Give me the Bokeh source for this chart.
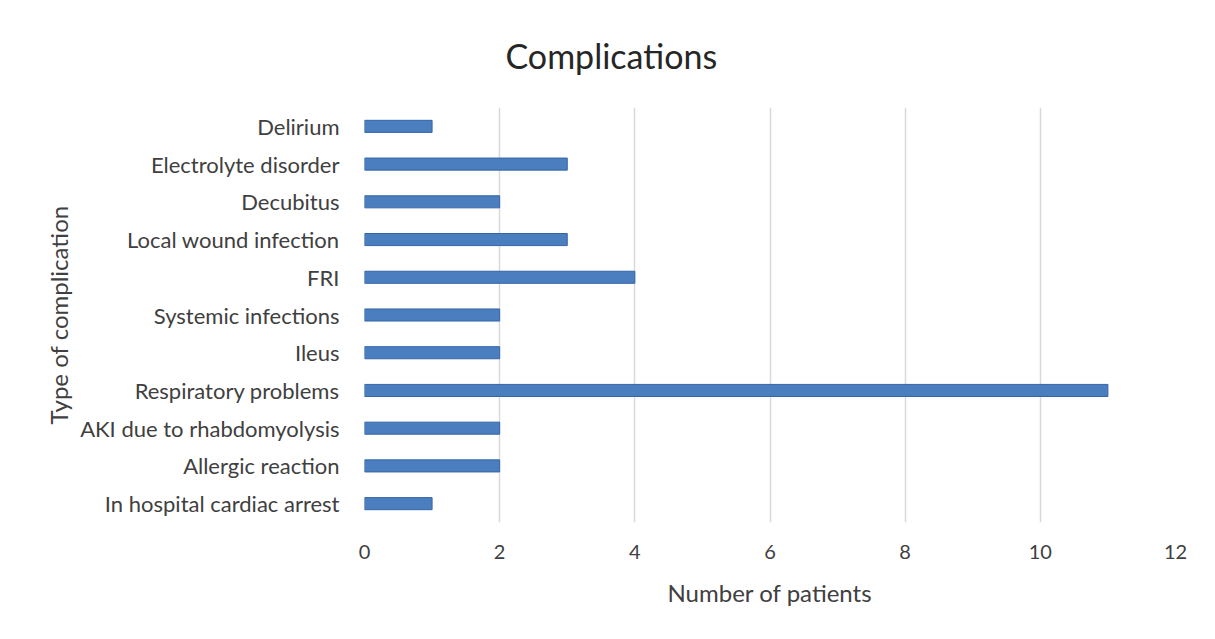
from bokeh.plotting import figure
from bokeh.models import Range1d, FactorRange, Title, FixedTicker
from bokeh.embed import file_html
from bokeh.resources import INLINE

categories = [
    "Delirium",
    "Electrolyte disorder",
    "Decubitus",
    "Local wound infection",
    "FRI",
    "Systemic infections",
    "Ileus",
    "Respiratory problems",
    "AKI due to rhabdomyolysis",
    "Allergic reaction",
    "In hospital cardiac arrest",
]
patients = [1, 3, 2, 3, 4, 2, 2, 11, 2, 2, 1]
x_ticks = [0, 2, 4, 6, 8, 10, 12]

FONT = "Lato"
TEXT = "#404040"

p = figure(
    width=1215, height=639,
    y_range=FactorRange(factors=list(reversed(categories))),
    x_range=Range1d(0, 12),
    output_backend="svg", toolbar_location=None,
    min_border_left=364, min_border_right=40,
    min_border_top=105, min_border_bottom=117,
)
p.title = Title(text="Complications", align="left", text_font=FONT,
                text_font_size="34px", text_font_style="normal",
                text_color="#262626", standoff=64, offset=141)
p.title_location = "above"

p.hbar(y=categories, right=patients, left=0, height=0.32,
       fill_color="#4A7EBF", line_color="#3465A8", line_width=1)

p.outline_line_color = None
p.background_fill_color = "white"
p.border_fill_color = "white"

p.xgrid.ticker = FixedTicker(ticks=x_ticks)
p.xgrid.grid_line_color = "#d9d9d9"
p.xgrid.grid_line_width = 1.5
p.ygrid.grid_line_color = None

p.xaxis.ticker = FixedTicker(ticks=x_ticks)
p.xaxis.axis_line_color = None
p.xaxis.major_tick_line_color = None
p.xaxis.minor_tick_line_color = None
p.xaxis.major_label_standoff = 16
p.xaxis.major_label_text_font = FONT
p.xaxis.major_label_text_font_size = "20px"
p.xaxis.major_label_text_color = TEXT
p.xaxis.axis_label = "Number of patients"
p.xaxis.axis_label_text_font = FONT
p.xaxis.axis_label_text_font_size = "24px"
p.xaxis.axis_label_text_font_style = "normal"
p.xaxis.axis_label_text_color = TEXT
p.xaxis.axis_label_standoff = 16

p.yaxis.axis_line_color = None
p.yaxis.major_tick_line_color = None
p.yaxis.minor_tick_line_color = None
p.yaxis.major_label_standoff = 19
p.yaxis.major_label_text_font = FONT
p.yaxis.major_label_text_font_size = "22px"
p.yaxis.major_label_text_color = TEXT
p.yaxis.axis_label = "Type of complication"
p.yaxis.axis_label_text_font = FONT
p.yaxis.axis_label_text_font_size = "24px"
p.yaxis.axis_label_text_font_style = "normal"
p.yaxis.axis_label_text_color = TEXT
p.yaxis.axis_label_standoff = 4

open("out.html", "w").write(file_html(p, INLINE))
